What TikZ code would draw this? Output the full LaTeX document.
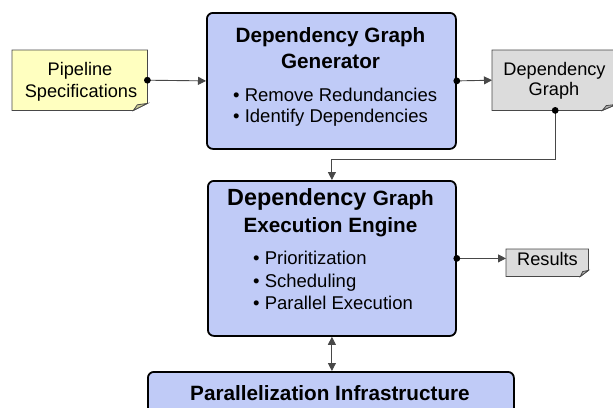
\documentclass[tikz,border=0pt]{standalone}
\usepackage{fontspec}
\setmainfont{Liberation Sans}
\usetikzlibrary{arrows.meta}

\definecolor{boxblue}{RGB}{192,203,247}
\definecolor{noteyellow}{RGB}{255,255,192}
\definecolor{notegray}{RGB}{220,220,220}
\definecolor{foldyellow}{RGB}{204,204,150}
\definecolor{foldgray}{RGB}{175,175,175}
\definecolor{lineclr}{RGB}{40,40,40}

\newcommand\myfoldnote[5]{%
  \draw[noteline, fill=#2] (#1.north west) -- (#1.north east) -- ([yshift=#5]#1.south east)
     -- ([xshift=-#4]#1.south east) -- (#1.south west) -- cycle;
  \filldraw[noteline, fill=#3] ([xshift=-#4]#1.south east) -- ([xshift=-0.72*#4, yshift=0.8*#5]#1.south east)
     -- ([yshift=#5]#1.south east) -- cycle;
}

\begin{document}
\begin{tikzpicture}[x=1pt,y=-1pt,
  bigbox/.style={draw=black, line width=1.8pt, fill=boxblue, rounded corners=6pt, inner sep=0pt},
  notebox/.style={draw=none, inner sep=0pt},
  noteline/.style={draw=lineclr!85, line width=0.8pt},
  titletext/.style={font=\fontsize{20.7}{26}\selectfont\bfseries, anchor=base, inner sep=0pt},
  itemtext/.style={font=\fontsize{18.5}{22}\selectfont, anchor=base west, inner sep=0pt},
  notetext/.style={font=\fontsize{18.2}{22}\selectfont, anchor=base, inner sep=0pt},
  conn/.style={draw=lineclr!85, line width=0.9pt},
  tip/.style={-{Triangle[length=8pt,width=8pt]}},
  dot/.style={fill=black, draw=none}
]
\clip (0,0) rectangle (613,407);
\useasboundingbox (0,0) rectangle (613,407);

% main boxes
\node[bigbox, minimum width=249pt, minimum height=136pt, anchor=north west] (gen) at (206,12) {};
\node[bigbox, minimum width=248pt, minimum height=155pt, anchor=north west] (eng) at (207,180) {};
\node[bigbox, minimum width=366pt, minimum height=80pt, anchor=north west] (infra) at (147,371) {};

% note boxes
\node[notebox, minimum width=135pt, minimum height=60pt, anchor=north west] (pipe) at (12,50) {};
\node[notebox, minimum width=124pt, minimum height=60pt, anchor=north west] (dg) at (492,50) {};
\node[notebox, minimum width=82pt, minimum height=27pt, anchor=north west] (res) at (506,249) {};
\myfoldnote{pipe}{noteyellow}{foldyellow}{14pt}{7pt}
\myfoldnote{dg}{notegray}{foldgray}{14pt}{6pt}
\myfoldnote{res}{notegray}{foldgray}{8pt}{6pt}

% generator text
\node[titletext] (genT1) at (330.5,42) {Dependency Graph};
\node[titletext] (genT2) at (330.5,68) {Generator};
\node[itemtext] (genI1) at (233,101) {• Remove Redundancies};
\node[itemtext] (genI2) at (233,122) {• Identify Dependencies};

% engine text
\node[anchor=base, inner sep=0pt] (engT1) at (330.5,205) {\fontsize{23.4}{28}\selectfont\bfseries Dependency \fontsize{20.7}{26}\selectfont Graph};
\node[titletext] (engT2) at (330.5,232) {Execution Engine};
\node[itemtext] (engI1) at (253,264) {• Prioritization};
\node[itemtext] (engI2) at (253,287) {• Scheduling};
\node[itemtext] (engI3) at (253,309) {• Parallel Execution};

% infrastructure text
\node[titletext] (infT) at (330,400) {Parallelization Infrastructure};

% note texts
\node[notetext] (pipeT1) at (80,75) {Pipeline};
\node[notetext] (pipeT2) at (81,97) {Specifications};
\node[notetext] (dgT1) at (554.5,75) {Dependency};
\node[notetext] (dgT2) at (554,95) {Graph};
\node[notetext] (resT) at (547.5,265) {Results};

% connectors
\draw[conn, tip] (pipe.east) -- (gen.west);
\fill[dot] (pipe.east) circle (3.4pt);
\draw[conn, tip] (gen.east) -- (dg.west);
\fill[dot] (gen.east) circle (3.4pt);
\coordinate (dgbottom) at ([xshift=1pt]dg.south);
\draw[conn, tip] (dgbottom) -- ++(0,49) -| (eng.north);
\fill[dot] (dgbottom) circle (3.4pt);
\draw[conn, tip] (eng.east) -- (eng.east -| res.west);
\fill[dot] (eng.east) circle (3.4pt);
\draw[conn, {Triangle[length=8pt,width=8pt]}-{Triangle[length=8pt,width=8pt]}] (eng.south) -- (eng.south |- infra.north);
\end{tikzpicture}
\end{document}
